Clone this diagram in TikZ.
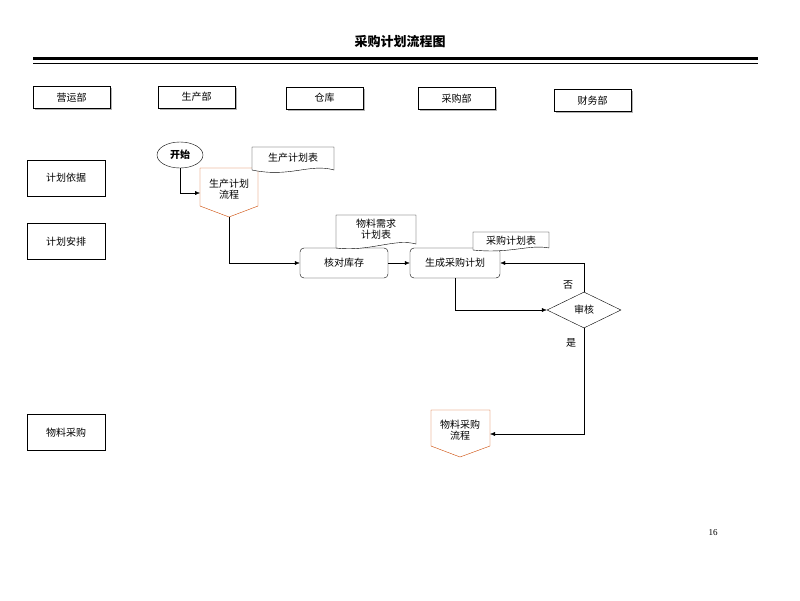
\documentclass[tikz,border=0pt]{standalone}
\usepackage{fontspec}
\setmainfont{Liberation Serif}
\newfontfamily\cjk{Noto Sans CJK SC}
\usetikzlibrary{shapes.geometric,arrows.meta}
\begin{document}
\begin{tikzpicture}[x=1pt,y=-1pt,
  every node/.style={font=\cjk\fontsize{10}{11}\selectfont},
  hdr/.style={draw,minimum width=77pt,minimum height=22pt,inner sep=0pt,anchor=north west},
  lab/.style={draw,minimum width=78pt,minimum height=36pt,inner sep=0pt,anchor=north west},
  proc/.style={draw,rounded corners=4pt,minimum width=88pt,minimum height=30pt,inner sep=0pt},
  arr/.style={-{Latex[length=5pt,width=4pt]}},
  off/.style={draw=orange!70!red!80!black},
  doc/.style={draw,fill=white}]
\useasboundingbox (0,0) rectangle (800,600);
\node[font=\cjk\bfseries\fontsize{13}{14}\selectfont] (title) at (400,42) {采购计划流程图};
\draw[line width=2.2pt] (33,58.5) -- (758,58.5);
\draw[line width=0.8pt] (33,63) -- (758,63);
% headers
\foreach \n/\x/\y/\t in {h1/33/86/营运部,h2/158/86/生产部,h3/286/87/仓库,h4/418/87/采购部,h5/554/89/财务部}{
  \fill[gray!60] (\x+2,\y+2) rectangle ++(77,22);
  \node[hdr,fill=white] (\n) at (\x,\y) {\t};
}
\node[lab] (l1) at (27,160) {计划依据};
\node[lab] (l2) at (27,223) {计划安排};
\node[lab] (l3) at (27,414) {物料采购};
% start
\node[draw,ellipse,minimum width=46pt,minimum height=26pt,inner sep=0pt,font=\cjk\bfseries\fontsize{10}{11}\selectfont] (start) at (180,155) {开始};
% pentagon 1
\draw[off] (200,168) -- (258,168) -- (258,206) -- (229,217) -- (200,206) -- cycle;
\node[align=center] (p1) at (229,189) {生产计划\\流程};
\coordinate (p1b) at (229,217);
\coordinate (p1l) at (200,193);
\draw[arr] (start.south) |- (p1l);
% doc 1
\draw[doc] (252,147) -- (334,147) -- (334,170) .. controls (310,163) and (290,178) .. (252,170) -- cycle;
\node (d1) at (293,158) {生产计划表};
% process nodes
\node[proc] (chk) at (344,263) {核对库存};
\node[proc,minimum width=90pt] (gen) at (455,263) {生成采购计划};
\draw[arr] (p1b) |- (chk.west);
\draw[arr] (chk) -- (gen);
% doc 2
\draw[doc] (336,215) -- (416,215) -- (416,244) .. controls (395,238) and (370,252) .. (336,248) -- cycle;
\node[align=center] (d2) at (376,229) {物料需求\\计划表};
% doc 3
\draw[doc] (473,232) -- (549,232) -- (549,248) .. controls (530,244) and (510,254) .. (473,250) -- cycle;
\node (d3) at (511,241) {采购计划表};
% diamond
\node[draw,diamond,aspect=2.1,minimum width=74pt,minimum height=36pt,inner sep=0pt] (rev) at (584,310) {审核};
\draw[arr] (gen.south) |- (rev.west);
\draw[arr] (rev.north) |- (gen.east);
\node (no) at (568,285) {否};
\node (yes) at (571,343) {是};
% pentagon 2
\draw[off] (431,410) -- (490,410) -- (490,446) -- (460,457) -- (431,446) -- cycle;
\node[align=center] (p2) at (460,430) {物料采购\\流程};
\coordinate (p2r) at (490,434);
\draw[arr] (rev.south) |- (p2r);
\node[font=\fontsize{9}{10}\selectfont] (pg) at (713,533) {16};
\end{tikzpicture}
\end{document}
